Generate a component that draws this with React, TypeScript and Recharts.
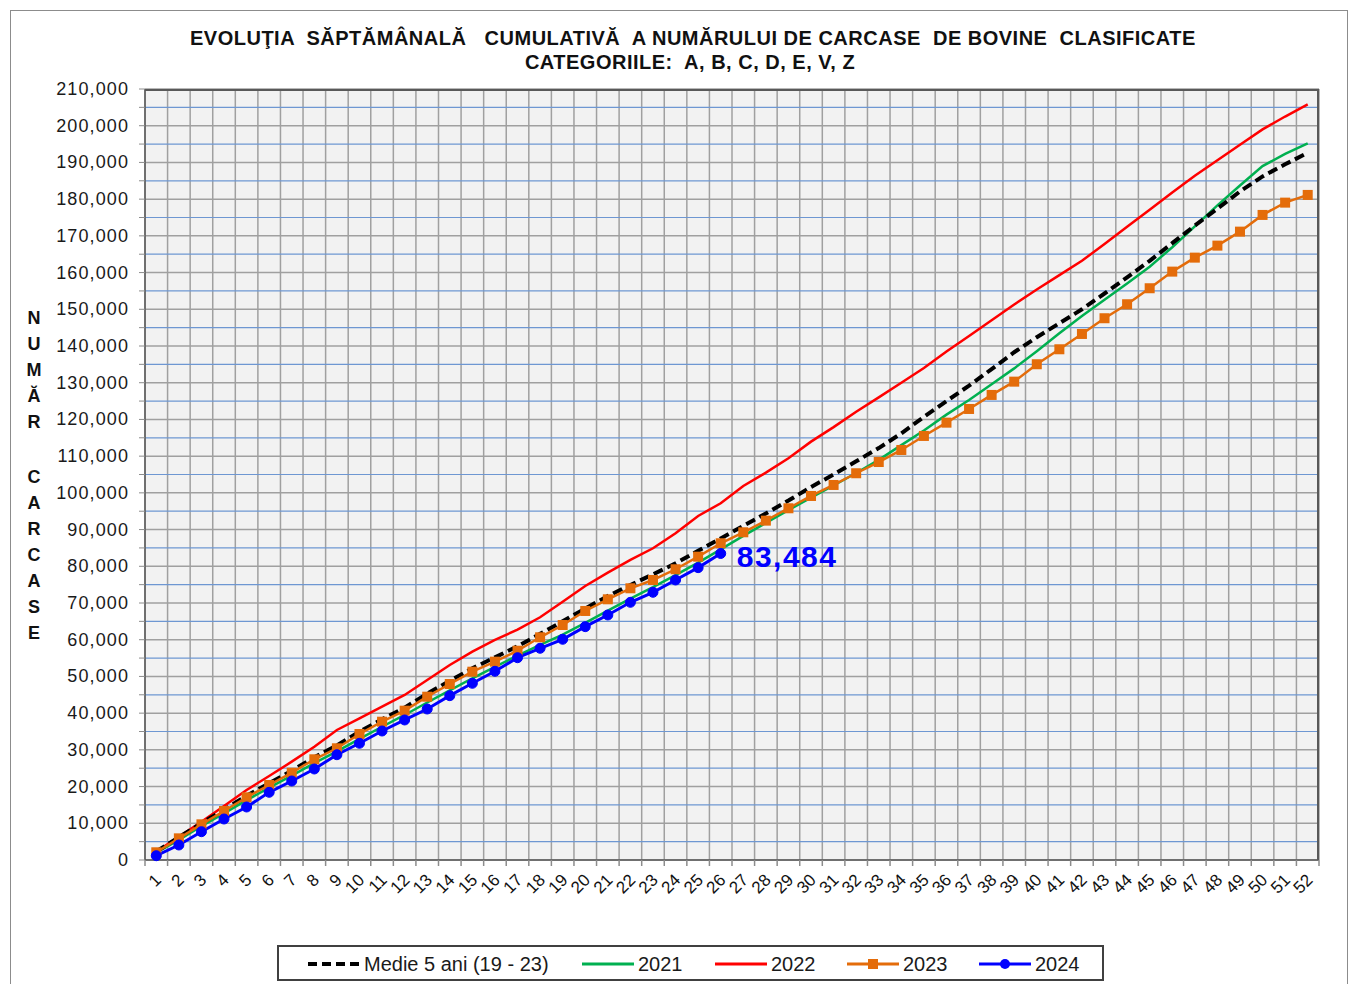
import React from "react";
import {
  CartesianGrid,
  LabelList,
  Line,
  LineChart,
  XAxis,
  YAxis,
} from "recharts";

// weeks 1..52
const weeks = [
  "1", "2", "3", "4", "5", "6", "7", "8", "9", "10", "11", "12", "13",
  "14", "15", "16", "17", "18", "19", "20", "21", "22", "23", "24", "25", "26",
  "27", "28", "29", "30", "31", "32", "33", "34", "35", "36", "37", "38", "39",
  "40", "41", "42", "43", "44", "45", "46", "47", "48", "49", "50", "51", "52",
];

const medie = [
  2300, 6200, 10000, 13700, 17500, 20900, 24300, 28000, 31200, 35000, 38300, 41500, 45300,
  48800, 52200, 55200, 58200, 61600, 65000, 68500, 71900, 74900, 77800, 80800, 84200, 87600,
  91000, 94400, 97900, 101600, 105000, 108600, 112200, 116200, 120700, 125000, 129200, 133700, 138300,
  142400, 146200, 150000, 154300, 158700, 163200, 168000, 172800, 177400, 182100, 186200, 189500, 192600,
];

const y2021 = [
  2000, 5500, 9200, 12700, 16300, 19700, 23000, 26400, 29600, 33000, 36300, 39500, 42900,
  46200, 49500, 52600, 55700, 58600, 61400, 64600, 67900, 71200, 74300, 77600, 81000, 84600,
  88300, 91800, 95300, 98700, 102000, 105400, 109000, 113000, 117000, 121300, 125300, 129600, 133900,
  138600, 143500, 148200, 152600, 157000, 161600, 166900, 172600, 178300, 183700, 189000, 192300, 195200,
];

const y2022 = [
  2300, 6350, 10430, 14710, 19070, 22880, 26780, 30860, 35410, 38600, 41760, 44950, 49030,
  53120, 56740, 59930, 62750, 66110, 70360, 74640, 78260, 81720, 84900, 88990, 93710, 97170,
  101880, 105500, 109420, 113950, 117900, 122090, 126000, 130000, 134000, 138500, 142700, 147000, 151300,
  155400, 159300, 163200, 167800, 172500, 177100, 181800, 186400, 190600, 194800, 199000, 202500, 205800,
];

const y2023 = [
  2100, 5900, 9720, 13350, 17080, 20430, 23780, 27430, 30430, 34320, 37670, 40670, 44480,
  47940, 51290, 54020, 57000, 60660, 64010, 67830, 71010, 74010, 76270, 79190, 82620, 86270,
  89260, 92430, 95800, 99150, 102150, 105340, 108400, 111680, 115500, 119120, 122850, 126670, 130290,
  135030, 139110, 143280, 147560, 151370, 155730, 160260, 164070, 167340, 171150, 175700, 179050, 181150,
];

const y2024 = [
  1170, 4090, 7710, 11170, 14440, 18440, 21520, 24790, 28680, 31790, 35140, 38140, 41130,
  44760, 48130, 51400, 55100, 57670, 60120, 63560, 66740, 70190, 72920, 76270, 79630, 83484,
];

const yTicks = [
  0, 5000, 10000, 15000, 20000, 25000, 30000, 35000, 40000, 45000, 50000, 55000, 60000,
  65000, 70000, 75000, 80000, 85000, 90000, 95000, 100000, 105000, 110000, 115000, 120000,
  125000, 130000, 135000, 140000, 145000, 150000, 155000, 160000, 165000, 170000, 175000,
  180000, 185000, 190000, 195000, 200000, 205000, 210000,
];
const grayLines = yTicks.filter((v) => v % 10000 === 0);
const blueLines = yTicks.filter((v) => v % 10000 !== 0);

const data = weeks.map((w, i) => ({
  week: w,
  medie: medie[i],
  y2021: y2021[i],
  y2022: y2022[i],
  y2023: y2023[i],
  y2024: i < y2024.length ? y2024[i] : null,
}));

const W = 1358;
const H = 984;
const PLOT_L = 145;
const PLOT_R = 1319;
const PLOT_T = 89;
const PLOT_B = 860;
const BAND = (PLOT_R - PLOT_L) / weeks.length;

const FONT = "'Liberation Sans', Arial, sans-serif";

const XTick = (props: any) => {
  const { x, payload, index } = props;
  const y = PLOT_B;
  return (
    <g>
      <line x1={x - BAND / 2} x2={x - BAND / 2} y1={y} y2={y + 6} stroke="#8c8c8c" strokeWidth={1.5} />
      {index === weeks.length - 1 && (
        <line x1={x + BAND / 2} x2={x + BAND / 2} y1={y} y2={y + 6} stroke="#8c8c8c" strokeWidth={1.5} />
      )}
      <text
        x={x + 6}
        y={y + 21}
        textAnchor="end"
        transform={`rotate(-45 ${x + 6} ${y + 21})`}
        fontSize={17}
        fontFamily={FONT}
        fill="#111"
      >
        {payload.value}
      </text>
    </g>
  );
};

const YTick = (props: any) => {
  const { x, y, payload } = props;
  if (payload.value % 10000 !== 0) return <g />;
  return (
    <text
      x={x - 8}
      y={y + 6}
      textAnchor="end"
      fontSize={18}
      letterSpacing={1.1}
      fontFamily={FONT}
      fill="#1a1a1a"
    >
      {payload.value.toLocaleString("en-US")}
    </text>
  );
};

const SquareDot = (props: any) => {
  const { cx, cy, index } = props;
  if (cx == null || cy == null) return <g key={`sq-${index}`} />;
  return <rect key={`sq-${index}`} x={cx - 5} y={cy - 5} width={10} height={10} fill="#e46c0a" />;
};

const LastLabel = (props: any) => {
  const { x, y, index } = props;
  if (index !== y2024.length - 1) return null;
  return (
    <text
      x={x + 16}
      y={y + 14}
      fontSize={30}
      fontWeight="bold"
      letterSpacing={1.5}
      fontFamily={FONT}
      fill="#0000ff"
    >
      {y2024[y2024.length - 1].toLocaleString("en-US")}
    </text>
  );
};

const legendItems = [
  { name: "Medie 5 ani (19 - 23)", color: "#000000", dash: "9 5", marker: "none", x: 28 },
  { name: "2021", color: "#00b050", dash: "", marker: "none", x: 302 },
  { name: "2022", color: "#ff0000", dash: "", marker: "none", x: 435 },
  { name: "2023", color: "#e46c0a", dash: "", marker: "square", x: 567 },
  { name: "2024", color: "#0000ff", dash: "", marker: "circle", x: 699 },
];

const yLabel = ["N", "U", "M", "Ă", "R", "", "C", "A", "R", "C", "A", "S", "E"];

const App = () => {
  return (
    <div style={{ position: "absolute", left: 0, top: 0, width: W, height: H, background: "#fff", overflow: "hidden" }}>
      <div
        style={{
          position: "absolute",
          left: 10,
          top: 10,
          width: 1336,
          height: 990,
          border: "1.5px solid #8c8c8c",
        }}
      />
      <div
        style={{
          position: "absolute",
          left: 190,
          top: 26,
          width: 1000,
          textAlign: "center",
          fontFamily: FONT,
          fontWeight: "bold",
          fontSize: 20,
          letterSpacing: 0.5,
          lineHeight: "24px",
          whiteSpace: "pre",
          color: "#111",
        }}
      >
        {"EVOLUŢIA  SĂPTĂMÂNALĂ   CUMULATIVĂ  A NUMĂRULUI DE CARCASE  DE BOVINE  CLASIFICATE"}
        <br />
        {"CATEGORIILE:  A, B, C, D, E, V, Z"}
      </div>
      <div
        style={{
          position: "absolute",
          left: 22,
          top: 305,
          width: 24,
          textAlign: "center",
          fontFamily: FONT,
          fontWeight: "bold",
          fontSize: 18,
          color: "#111",
        }}
      >
        {yLabel.map((c, i) => (
          <div key={i} style={{ height: c === "" ? 29 : 26, lineHeight: "26px" }}>
            {c}
          </div>
        ))}
      </div>

      <div style={{ position: "absolute", left: 0, top: 0 }}>
        <LineChart
          width={W}
          height={H}
          data={data}
          margin={{ top: PLOT_T, right: W - PLOT_R, bottom: H - PLOT_B - 40, left: 0 }}
        >
          <CartesianGrid
            fill="#f2f2f2"
            stroke="#a0a0a0"
            strokeWidth={1.5}
            horizontalValues={grayLines}
            verticalCoordinatesGenerator={({ offset }: any) =>
              [...weeks, ""].map((_, i) => offset.left + (i * offset.width) / weeks.length)
            }
          />
          <CartesianGrid stroke="#6e97d2" strokeWidth={1.2} vertical={false} horizontalValues={blueLines} />
          <XAxis
            dataKey="week"
            interval={0}
            height={40}
            padding={{ left: BAND / 2, right: BAND / 2 }}
            tickLine={false}
            axisLine={{ stroke: "#595959", strokeWidth: 1.5 }}
            tick={<XTick />}
          />
          <YAxis
            width={PLOT_L}
            domain={[0, 210000]}
            ticks={yTicks}
            interval={0}
            tickSize={6}
            tickLine={{ stroke: "#8c8c8c" }}
            axisLine={{ stroke: "#595959", strokeWidth: 1.5 }}
            tick={<YTick />}
          />
          <Line
            dataKey="y2021"
            stroke="#00b050"
            strokeWidth={2.5}
            dot={false}
            isAnimationActive={false}
          />
          <Line
            dataKey="y2022"
            stroke="#ff0000"
            strokeWidth={2.5}
            dot={false}
            isAnimationActive={false}
          />
          <Line
            dataKey="medie"
            stroke="#000000"
            strokeWidth={4}
            strokeDasharray="10 5"
            dot={false}
            isAnimationActive={false}
          />
          <Line
            dataKey="y2023"
            stroke="#e46c0a"
            strokeWidth={2.5}
            dot={<SquareDot />}
            isAnimationActive={false}
          />
          <Line
            dataKey="y2024"
            stroke="#0000ff"
            strokeWidth={3}
            dot={{ r: 5, fill: "#0000ff", stroke: "#0000ff", strokeWidth: 1 }}
            isAnimationActive={false}
          >
            <LabelList dataKey="y2024" content={<LastLabel />} />
          </Line>
        </LineChart>
      </div>

      <div
        style={{
          position: "absolute",
          left: PLOT_L,
          top: PLOT_T,
          width: PLOT_R - PLOT_L,
          height: PLOT_B - PLOT_T,
          borderTop: "2px solid #595959",
          borderRight: "2px solid #595959",
          boxSizing: "border-box",
          pointerEvents: "none",
        }}
      />

      <div
        style={{
          position: "absolute",
          left: 277,
          top: 945,
          width: 827,
          height: 36,
          border: "2px solid #404040",
          boxSizing: "border-box",
          background: "#fff",
          fontFamily: FONT,
          fontSize: 20,
          color: "#1a1a1a",
        }}
      >
        {legendItems.map((it) => (
          <div
            key={it.name}
            style={{ position: "absolute", left: it.x, top: 4, height: 26, display: "flex", alignItems: "center" }}
          >
            <svg width={54} height={20} style={{ marginRight: 3 }}>
              <line
                x1={1}
                x2={53}
                y1={10}
                y2={10}
                stroke={it.color}
                strokeWidth={it.dash ? 4 : 3}
                strokeDasharray={it.dash || undefined}
              />
              {it.marker === "square" && <rect x={22} y={5} width={10} height={10} fill={it.color} />}
              {it.marker === "circle" && <circle cx={27} cy={10} r={5} fill={it.color} />}
            </svg>
            <span style={{ whiteSpace: "pre" }}>{it.name}</span>
          </div>
        ))}
      </div>
    </div>
  );
};

export default App;
